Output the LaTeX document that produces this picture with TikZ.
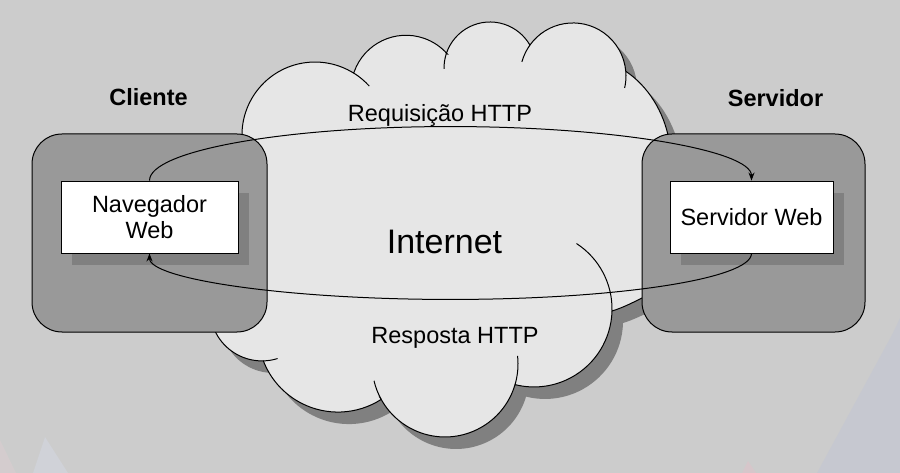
\documentclass[tikz,border=0pt]{standalone}
\usepackage{fontspec}
\setmainfont{Liberation Sans}
\usetikzlibrary{arrows.meta,shadows}
\definecolor{bgcol}{HTML}{CCCCCC}
\definecolor{cloudfill}{HTML}{E6E6E6}
\definecolor{boxfill}{HTML}{999999}
\definecolor{shadowgray}{HTML}{808080}
\tikzset{
  bigbox/.style={draw=black,line width=1pt,fill=boxfill,rounded corners=30pt,inner sep=0pt},
  whitebox/.style={draw=black,line width=0.9pt,fill=white,inner sep=0pt,align=center,
    font=\fontsize{23.5}{26}\selectfont,
    drop shadow={shadow xshift=11pt,shadow yshift=-12pt,fill=shadowgray,opacity=1}},
  flow/.style={line width=1pt,-{Stealth[length=8pt,width=6pt]}},
  cloudline/.style={draw=black,line width=1pt},
  lbl/.style={anchor=base,inner sep=0pt,font=\fontsize{23.5}{28}\selectfont},
  boldlbl/.style={anchor=base,inner sep=0pt,font=\fontsize{23.5}{28}\selectfont\bfseries},
}
\begin{document}
\begin{tikzpicture}[x=1pt,y=-1pt]
\useasboundingbox (0,0) rectangle (900,473);
\fill[bgcol] (0,0) rectangle (900,473);
% faint background decorations
\fill[color={rgb,255:red,198;green,200;blue,208}] (817,473) -- (893,333) -- (900,318) -- (900,473) -- cycle;
\fill[color={rgb,255:red,208;green,210;blue,216}] (33,473) -- (45,437) -- (68,473) -- cycle;
\fill[color={rgb,255:red,212;green,204;blue,206}] (0,440) -- (16,473) -- (0,473) -- cycle;
\fill[color={rgb,255:red,214;green,198;blue,202}] (742,473) -- (748,461) -- (756,473) -- cycle;

\def\cloudpath{(243.1,147.7) arc[start angle=170,end angle=301.8,radius=73]
  -- (354.1,72) arc[start angle=199.4,end angle=318.7,radius=55]
  -- (446.3,53.7) arc[start angle=198.1,end angle=330.1,radius=46]
  -- (529.9,45.1) arc[start angle=215.6,end angle=355,radius=53]
  .. controls (648,86) and (664,112) .. (669,140)
  .. controls (675,180) and (690,260) .. (660,290)
  .. controls (652,296) and (646,297) .. (642,298)
  .. controls (632,303) and (622,308) .. (612,311)
  arc[start angle=1.5,end angle=104.1,radius=78]
  -- (515,384.7) arc[start angle=16.5,end angle=151,radius=73]
  -- (381.2,399.4) arc[start angle=57.3,end angle=158.8,radius=80]
  -- (263.4,360.9) arc[start angle=88.5,end angle=195,radius=52]
  -- cycle}
\fill[shadowgray,shift={(11,12)}] \cloudpath;
\filldraw[fill=cloudfill,draw=black,line width=1pt] \cloudpath;
% inner lobe tips
\draw[cloudline] (353.5,72.9) arc[start angle=301.8,end angle=318,radius=73];
\draw[cloudline] (446.3,53.7) arc[start angle=198.1,end angle=178.8,radius=46];
\draw[cloudline] (529.9,45.1) arc[start angle=215.6,end angle=195.4,radius=53];
\draw[cloudline] (625.8,71.4) arc[start angle=355,end angle=373,radius=53];
\draw[cloudline] (612,311) arc[start angle=1.5,end angle=-57,radius=78];
\draw[cloudline] (515,384.7) arc[start angle=16.5,end angle=-6.3,radius=73];
\draw[cloudline] (381.2,399.4) arc[start angle=151,end angle=166.7,radius=73];
\draw[cloudline] (263.4,360.9) arc[start angle=88.5,end angle=72.6,radius=52];

% client and server areas
\node[bigbox,minimum width=235pt,minimum height=198pt] (cbox) at (149.5,233) {};
\node[bigbox,minimum width=223pt,minimum height=198pt] (sbox) at (753.5,233) {};
\node[whitebox,minimum width=177pt,minimum height=72pt] (nav) at (149.5,217) {Navegador\\Web};
\node[whitebox,minimum width=163pt,minimum height=72pt] (srv) at (751.5,217) {Servidor Web};

% request / response
\draw[flow] (nav.north) arc[start angle=180,end angle=360,x radius=301,y radius=54];
\draw[flow] (srv.south) arc[start angle=0,end angle=180,x radius=301,y radius=46];

% labels
\node[boldlbl] (cli) at (148.5,106) {Cliente};
\node[boldlbl] (svr) at (775.5,106.5) {Servidor};
\node[lbl] (req) at (440,122) {Requisição HTTP};
\node[lbl] (resp) at (455,343) {Resposta HTTP};
\node[anchor=base,inner sep=0pt,font=\fontsize{34}{40}\selectfont] (inet) at (444.5,254) {Internet};
\end{tikzpicture}
\end{document}
